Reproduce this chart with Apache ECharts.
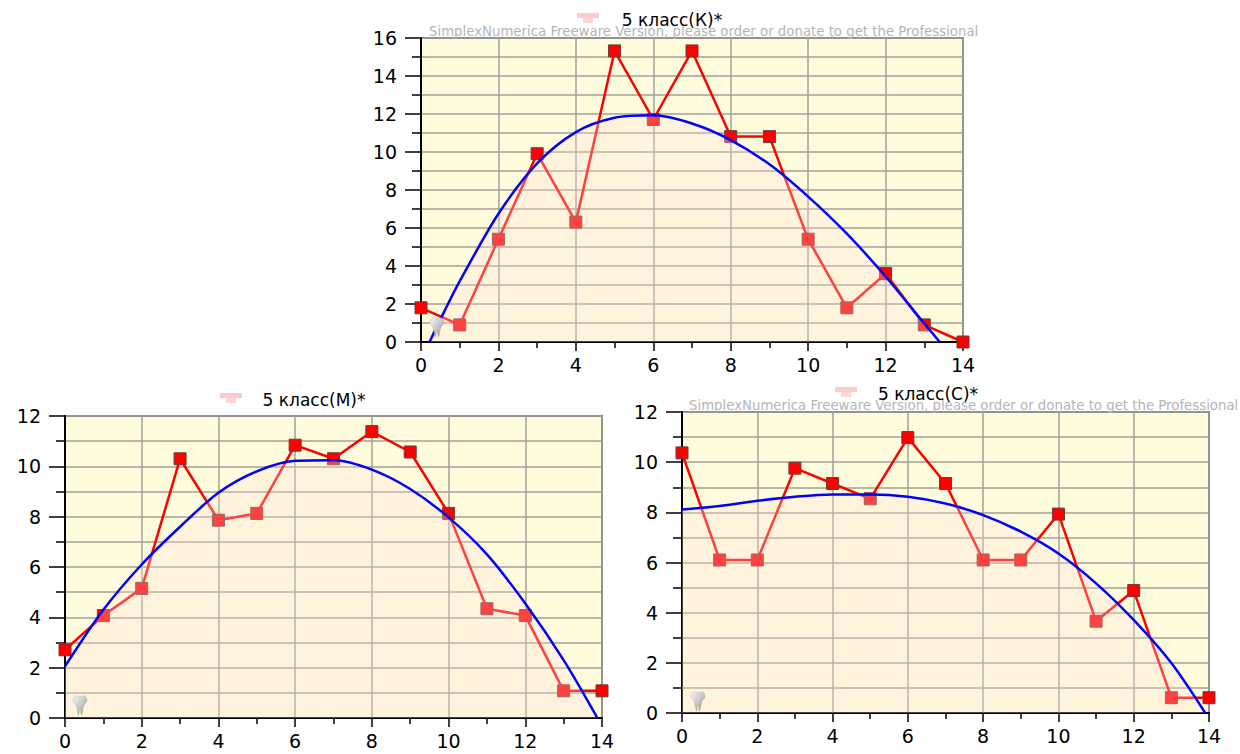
<!DOCTYPE html>
<html>
<head>
<meta charset="utf-8">
<script src="https://cdn.jsdelivr.net/npm/echarts@6/dist/echarts.min.js"></script>
<style>
  html, body { margin: 0; padding: 0; background: #ffffff; }
  #chart { width: 1240px; height: 754px; }
</style>
</head>
<body>
<div id="chart"></div>
<script>
// Points along the horizontal axis (0..14)
const xValues = [0, 1, 2, 3, 4, 5, 6, 7, 8, 9, 10, 11, 12, 13, 14];

// Share of pupils (%) per point, for each class
const classK = [1.80, 0.90, 5.41, 9.91, 6.31, 15.32, 11.71, 15.32, 10.81, 10.81, 5.41, 1.80, 3.60, 0.90, 0];
const classM = [2.71, 4.07, 5.15, 10.30, 7.86, 8.13, 10.84, 10.30, 11.38, 10.57, 8.13, 4.34, 4.07, 1.08, 1.08];
const classC = [10.37, 6.10, 6.10, 9.76, 9.15, 8.54, 10.98, 9.15, 6.10, 6.10, 7.93, 3.66, 4.88, 0.61, 0.61];

// Trend curves (x, y) for each class
const trendK = [[0.22, 0], [0.6, 1.6], [1, 3.2], [2, 6.75], [3, 9.4], [4, 11.05], [5, 11.8], [6, 11.93], [7, 11.5],
                [8, 10.63], [9, 9.35], [10, 7.65], [11, 5.7], [12, 3.45], [13, 0.97], [13.4, 0]];
const trendM = [[0, 2.05], [1, 4.3], [2, 6.1], [3, 7.6], [4, 8.95], [5, 9.8], [6, 10.22], [7, 10.24],
                [8, 9.87], [9, 9.1], [10, 7.97], [11, 6.5], [12, 4.55], [13, 2.3], [13.88, 0]];
const trendC = [[0, 8.11], [1, 8.25], [2, 8.46], [3, 8.62], [4, 8.71], [5, 8.71], [6, 8.62], [7, 8.35],
                [8, 7.89], [9, 7.23], [10, 6.36], [11, 5.17], [12, 3.71], [13, 1.99], [13.9, 0]];

// Axis ranges and titles
const yMax = [16, 12, 12];
const xMax = 14;
const titles = ['5 класс(К)*', '5 класс(М)*', '5 класс(С)*'];
const watermark = 'SimplexNumerica Freeware Version, please order or donate to get the Professional';

const FONT = '"DejaVu Sans", "Liberation Sans", Arial, sans-serif';

const panels = [
  { grid: { left: 421, top: 38, width: 542, height: 304 }, data: classK, trend: trendK,
    title: [672, 20], icon: [577, 13], wm: [429, 31, 558], tooth: [428, 317] },
  { grid: { left: 65, top: 416, width: 537, height: 302 }, data: classM, trend: trendM,
    title: [314, 400], icon: [220, 393], wm: null, tooth: [71, 695] },
  { grid: { left: 682, top: 412, width: 527, height: 301 }, data: classC, trend: trendC,
    title: [928, 394], icon: [835, 387], wm: [689, 405, 560], tooth: [689, 691] }
];

// outline of the small tooth emblem (local coordinates)
const toothOutline = [[2, 6], [3, 2], [6, 0.8], [9, 1.8], [12, 0.8], [15, 2], [16, 6], [13, 10],
                      [12, 14], [10.5, 20], [9, 13.5], [7.5, 20], [6, 14], [5, 10]];

const gridLine = { color: '#a0a098', width: 1.5 };

const chart = echarts.init(document.getElementById('chart'), null, { renderer: 'svg' });

const grids = [], xAxes = [], yAxes = [], series = [], graphics = [];

panels.forEach((p, i) => {
  grids.push(Object.assign({
    show: true, backgroundColor: '#fffcdd', borderColor: '#707070', borderWidth: 2
  }, p.grid));

  xAxes.push({
    type: 'value', gridIndex: i, min: 0, max: xMax, interval: 2,
    axisLine: { show: true, onZero: false, lineStyle: { color: '#000', width: 2 } },
    axisTick: { show: true, length: 9, lineStyle: { color: '#000', width: 1.5 } },
    minorTick: { show: true, splitNumber: 2, length: 6, lineStyle: { color: '#000', width: 1.5 } },
    splitLine: { show: true, lineStyle: gridLine },
    axisLabel: { color: '#000', fontSize: 19, fontFamily: FONT, margin: 13 }
  });

  yAxes.push({
    type: 'value', gridIndex: i, min: 0, max: yMax[i], interval: 2,
    axisLine: { show: true, onZero: false, lineStyle: { color: '#000', width: 2 } },
    axisTick: { show: true, length: 16, lineStyle: { color: '#000', width: 1.5 } },
    minorTick: { show: true, splitNumber: 2, length: 9, lineStyle: { color: '#000', width: 1.5 } },
    splitLine: { show: true, lineStyle: gridLine },
    minorSplitLine: { show: true, lineStyle: gridLine },
    axisLabel: { color: '#000', fontSize: 19, fontFamily: FONT, margin: 24 }
  });

  // measured shares: red polyline with square markers
  series.push({
    type: 'line', xAxisIndex: i, yAxisIndex: i,
    data: xValues.map((x, k) => [x, p.data[k]]),
    symbol: 'rect', symbolSize: 12, showAllSymbol: true, clip: false, z: 3,
    lineStyle: { color: '#ff0000', width: 2.5 },
    itemStyle: { color: '#ff0000', borderColor: '#6b3b3b', borderWidth: 1 },
    silent: true
  });

  // trend curve with translucent fill beneath it
  series.push({
    type: 'line', xAxisIndex: i, yAxisIndex: i,
    data: p.trend, smooth: 0.3, showSymbol: false, clip: true, z: 4,
    lineStyle: { color: '#0000ff', width: 2.5 },
    areaStyle: { color: 'rgba(255, 222, 214, 0.42)' },
    silent: true
  });

  // title
  graphics.push({
    type: 'text', x: p.title[0], y: p.title[1], z: 10,
    style: { text: titles[i], textAlign: 'center', textVerticalAlign: 'middle',
             font: '17px ' + FONT, fill: '#000' }
  });

  // faded legend glyph left of the title
  graphics.push({
    type: 'group', x: p.icon[0], y: p.icon[1], z: 9,
    children: [
      { type: 'rect', shape: { x: 0, y: 0, width: 22, height: 5 }, style: { fill: '#ffcaca' } },
      { type: 'rect', shape: { x: 6, y: 5, width: 10, height: 5 }, style: { fill: '#ffd6d6' } }
    ]
  });

  // freeware notice
  if (p.wm) {
    graphics.push({
      type: 'text', x: p.wm[0], y: p.wm[1], z: 8,
      style: { text: watermark, textVerticalAlign: 'middle', font: '13.3px ' + FONT,
               fill: '#b5b5b5', width: p.wm[2], overflow: 'truncate', ellipsis: '' }
    });
  }

  // small tooth emblem in the lower-left corner of the plot
  graphics.push({
    type: 'polygon', x: p.tooth[0], y: p.tooth[1], z: 5,
    shape: { points: toothOutline, smooth: 0.35 },
    style: {
      fill: {
        type: 'linear', x: 0, y: 0, x2: 1, y2: 1,
        colorStops: [
          { offset: 0, color: '#f6f6f6' }, { offset: 0.5, color: '#c8c8c8' }, { offset: 1, color: '#8a8a8a' }
        ]
      },
      stroke: 'rgba(120,120,120,0.4)', lineWidth: 0.5
    }
  });
});

chart.setOption({
  animation: false,
  backgroundColor: '#ffffff',
  grid: grids,
  xAxis: xAxes,
  yAxis: yAxes,
  series: series,
  graphic: graphics
});
</script>
</body>
</html>
